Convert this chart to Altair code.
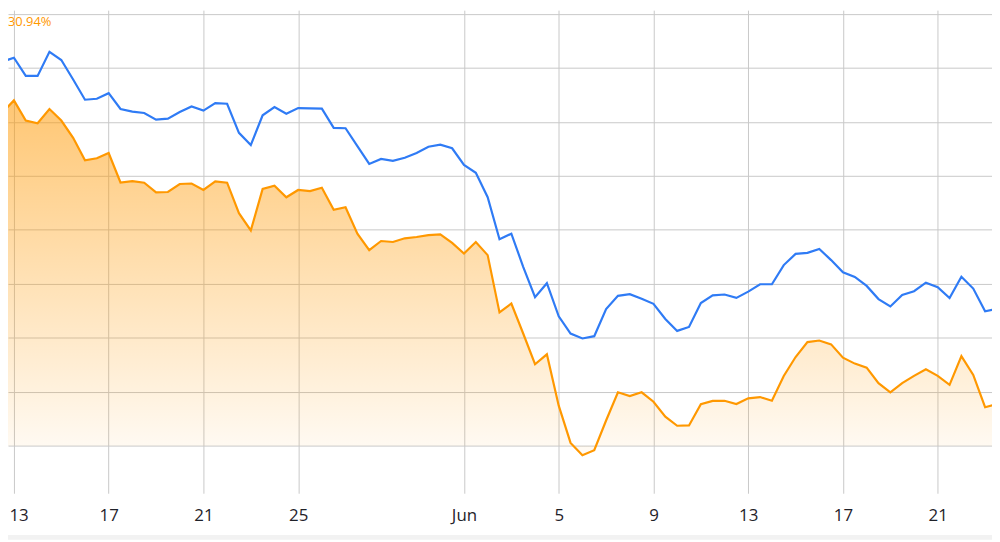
import altair as alt
import pandas as pd

# half-day samples, 2024-05-12 00:00 UTC .. 2024-06-23 12:00 UTC
times = pd.date_range("2024-05-12T00:00:00Z", periods=86, freq="12h")
t_ms = [int(t.value // 10**6) for t in times]

blue = [36.03, 35.57, 35.94, 34.26, 34.26, 36.49, 35.73, 33.92, 32.05, 32.14,
        32.66, 31.19, 30.95, 30.82, 30.21, 30.30, 30.91, 31.43, 31.04, 31.74,
        31.68, 28.98, 27.85, 30.61, 31.37, 30.76, 31.28, 31.25, 31.22, 29.44,
        29.41, 27.76, 26.10, 26.56, 26.38, 26.68, 27.11, 27.69, 27.88, 27.55,
        26.01, 25.28, 23.02, 19.12, 19.64, 16.57, 13.76, 15.05, 11.98, 10.39,
        9.93, 10.14, 12.66, 13.88, 14.03, 13.60, 13.14, 11.74, 10.63, 11.00,
        13.21, 13.92, 14.00, 13.69, 14.27, 14.95, 14.95, 16.73, 17.77, 17.86,
        18.23, 17.19, 16.06, 15.63, 14.80, 13.58, 12.90, 13.97, 14.31, 15.10,
        14.68, 13.67, 15.65, 14.55, 12.44, 12.68]

orange = [31.43, 30.82, 31.99, 30.12, 29.87, 31.19, 30.12, 28.52, 26.44, 26.63,
          27.11, 24.38, 24.51, 24.36, 23.47, 23.50, 24.24, 24.29, 23.69, 24.48,
          24.36, 21.54, 19.94, 23.78, 24.08, 23.01, 23.69, 23.59, 23.90, 21.85,
          22.09, 19.64, 18.11, 18.96, 18.87, 19.21, 19.33, 19.51, 19.58, 18.78,
          17.80, 18.87, 17.65, 12.34, 13.17, 10.39, 7.54, 8.46, 3.70, 0.25,
          -0.89, -0.43, 2.33, 4.94, 4.60, 4.94, 4.07, 2.69, 1.84, 1.87,
          3.83, 4.14, 4.16, 3.86, 4.38, 4.50, 4.16, 6.46, 8.21, 9.59,
          9.74, 9.38, 8.15, 7.60, 7.23, 5.79, 4.94, 5.79, 6.46, 7.08,
          6.46, 5.63, 8.30, 6.55, 3.56, 3.86]

tick_dates = ["2024-05-13", "2024-05-17", "2024-05-21", "2024-05-25", "2024-06-01",
              "2024-06-05", "2024-06-09", "2024-06-13", "2024-06-17", "2024-06-21"]
y_grid = [0, 5, 10, 15, 20, 25, 30, 35, 40]
badge = ["30.94%"]

tick_ms = [int(pd.Timestamp(d + "T00:00:00Z").value // 10**6) for d in tick_dates]
x_domain = [int(pd.Timestamp("2024-05-12T18:00:00Z").value // 10**6),
            int(pd.Timestamp("2024-06-23T07:00:00Z").value // 10**6)]
y_domain = [-4.41, 40.35]

W, H = 992, 487
BLUE = "#2f7bf5"
ORANGE = "#ff9800"

df = pd.DataFrame({"t": t_ms, "blue": blue, "orange": orange})

x_enc = alt.X(
    "t:T",
    scale=alt.Scale(type="utc", domain=x_domain),
    axis=alt.Axis(
        values=tick_ms,
        title=None,
        grid=True,
        ticks=False,
        tickSize=0,
        domain=False,
        labelPadding=22,
        labelBaseline="middle",
        labelFlush=10,
        labelFlushOffset=5,
        labelExpr="utcdate(datum.value) == 1 ? utcFormat(datum.value, '%b') : utcFormat(datum.value, '%-d')",
    ),
)
y_scale = alt.Scale(domain=y_domain, nice=False, zero=False)
y_axis = alt.Axis(values=y_grid, labels=False, ticks=False, domain=False, title=None, grid=True)

base = alt.Chart(df)

grad = alt.Gradient(
    gradient="linear",
    stops=[alt.GradientStop(color="rgba(255,152,0,0.55)", offset=0),
           alt.GradientStop(color="rgba(255,152,0,0.04)", offset=1)],
    x1=0, x2=0, y1=0, y2=1,
)

area = base.mark_area(color=grad, clip=True).encode(
    x=x_enc,
    y=alt.Y("orange:Q", scale=y_scale, axis=y_axis),
    y2=alt.value(H),
)
line_o = base.mark_line(color=ORANGE, strokeWidth=2.2, clip=True).encode(
    x=alt.X("t:T"), y=alt.Y("orange:Q")
)
line_b = base.mark_line(color=BLUE, strokeWidth=2.2, clip=True).encode(
    x=alt.X("t:T"), y=alt.Y("blue:Q")
)
label = alt.Chart(pd.DataFrame({"txt": badge})).mark_text(
    color=ORANGE, fontSize=13, align="left", baseline="middle", font="Open Sans"
).encode(text="txt:N", x=alt.value(0), y=alt.value(12))

strip = alt.Chart(pd.DataFrame({"a": [0]})).mark_rule(color="#f2f2f2", strokeWidth=5).encode(
    x=alt.value(0), x2=alt.value(W), y=alt.value(H + 47 - 2.5)
)

chart = alt.layer(area, line_o, line_b, label, strip).properties(
    width=W,
    height=H,
    autosize=alt.AutoSizeParams(type="none"),
    padding={"left": 0, "top": 0, "right": 0, "bottom": 47},
    background="white",
).configure_view(strokeWidth=0).configure_axis(
    gridColor="#c8c8c8",
    gridWidth=1,
    gridOpacity=1,
    labelFont="Open Sans",
    labelFontSize=17,
    labelFontWeight=500,
    labelColor="#1f2229",
)

chart.save("out.html", embed_options={"renderer": "svg", "actions": False})
